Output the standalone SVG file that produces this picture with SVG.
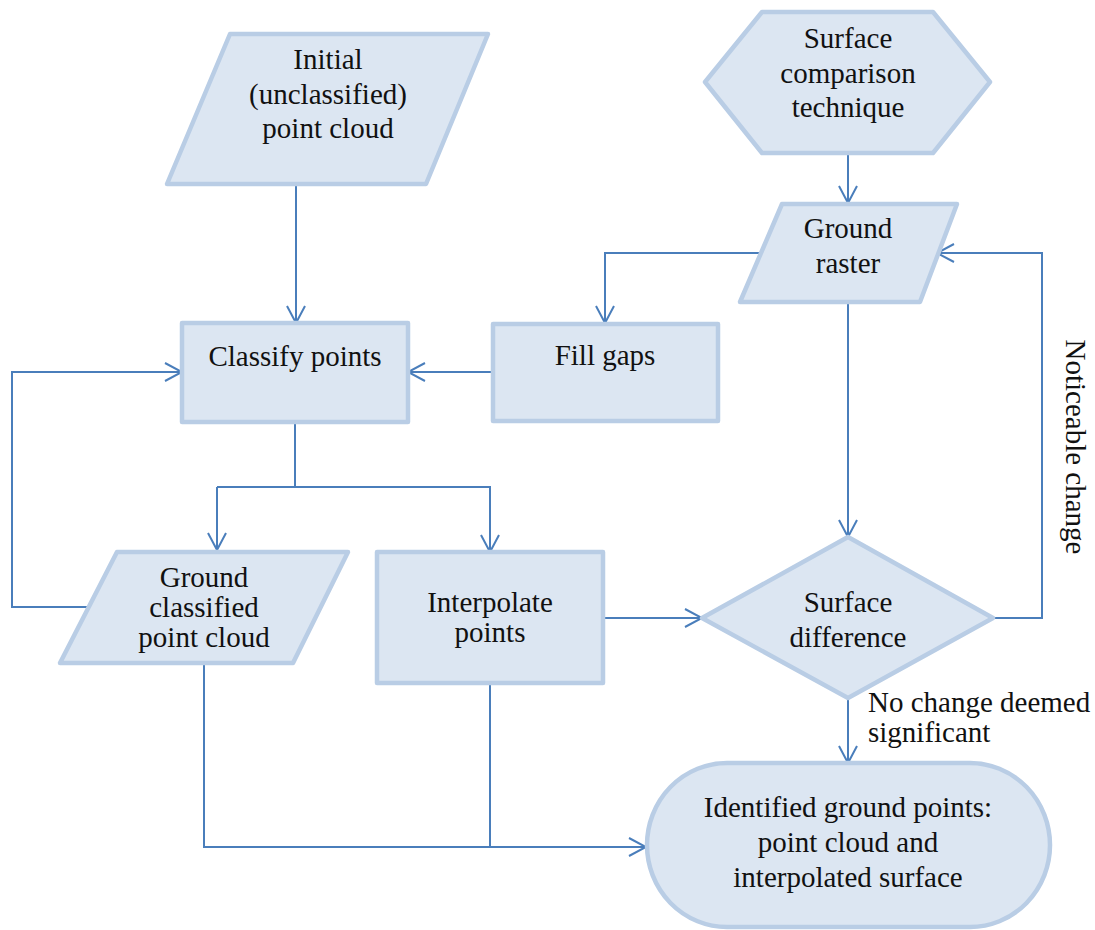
<svg xmlns="http://www.w3.org/2000/svg" width="1095" height="930" viewBox="0 0 1095 930">
  <defs>
    <marker id="arrow" viewBox="0 0 20 20" refX="18" refY="10" markerWidth="20" markerHeight="20" markerUnits="userSpaceOnUse" orient="auto">
      <path d="M1,1 L18,10 L1,19" fill="none" stroke="#4A7EBB" stroke-width="2"/>
    </marker>
    <style>
      .node { fill: #DCE6F2; stroke: #B9CDE5; stroke-width: 4.5; stroke-linejoin: round; }
      .label { font-family: "Liberation Serif", "Times New Roman", serif; font-size: 29px; fill: #111111; text-anchor: middle; }
      .note { font-family: "Liberation Serif", "Times New Roman", serif; font-size: 29px; fill: #111111; }
      .conn { fill: none; stroke: #4A7EBB; stroke-width: 2; }
      .arrow { marker-end: url(#arrow); }
    </style>
  </defs>
  <rect width="1095" height="930" fill="#FFFFFF"/>

  <!-- connectors -->
  <g id="connectors">
    <path class="conn arrow" d="M296,185 L296,323"/>
    <path class="conn arrow" d="M848,153 L848,203"/>
    <path class="conn arrow" d="M760,253 L605,253 L605,323"/>
    <path class="conn arrow" d="M493,372 L408,372"/>
    <path class="conn arrow" d="M88,607 L12,607 L12,372 L182,372"/>
    <path class="conn" d="M295,422 L295,487"/>
    <path class="conn arrow" d="M217,487 L217,550"/>
    <path class="conn arrow" d="M217,487 L490,487 L490,552"/>
    <path class="conn arrow" d="M848,302 L848,537"/>
    <path class="conn arrow" d="M604,618 L702,618"/>
    <path class="conn arrow" d="M995,618 L1042,618 L1042,253 L937,253"/>
    <path class="conn arrow" d="M848,698 L848,763"/>
    <path class="conn" d="M204,663 L204,847 L490,847"/>
    <path class="conn arrow" d="M490,683 L490,847 L646,847"/>
    <text class="note" transform="translate(1066,447) rotate(90)" text-anchor="middle">Noticeable change</text>
    <text class="note" x="868" y="712">No change deemed</text>
    <text class="note" x="868" y="742">significant</text>
  </g>

  <g id="initial-point-cloud">
    <polygon class="node" points="230,34 488,34 426,184 167,184"/>
    <text class="label" x="328" y="69">Initial</text>
    <text class="label" x="328" y="104">(unclassified)</text>
    <text class="label" x="328" y="138">point cloud</text>
  </g>

  <g id="surface-comparison">
    <polygon class="node" points="762,12 933,12 990,82 933,153 762,153 705,82"/>
    <text class="label" x="848" y="48">Surface</text>
    <text class="label" x="848" y="83">comparison</text>
    <text class="label" x="848" y="117">technique</text>
  </g>

  <g id="ground-raster">
    <polygon class="node" points="782,204 957,204 920,302 740,302"/>
    <text class="label" x="848" y="238">Ground</text>
    <text class="label" x="848" y="273">raster</text>
  </g>

  <g id="classify-points">
    <rect class="node" x="182" y="323" width="226" height="99"/>
    <text class="label" x="295" y="366">Classify points</text>
  </g>

  <g id="fill-gaps">
    <rect class="node" x="493" y="324" width="225" height="97"/>
    <text class="label" x="605" y="365">Fill gaps</text>
  </g>

  <g id="ground-classified">
    <polygon class="node" points="117,552 348,552 293,663 60,663"/>
    <text class="label" x="204" y="587">Ground</text>
    <text class="label" x="204" y="617">classified</text>
    <text class="label" x="204" y="647">point cloud</text>
  </g>

  <g id="interpolate-points">
    <rect class="node" x="377" y="552" width="226" height="131"/>
    <text class="label" x="490" y="612">Interpolate</text>
    <text class="label" x="490" y="642">points</text>
  </g>

  <g id="surface-difference">
    <polygon class="node" points="848,537 993,618 848,698 702,618"/>
    <text class="label" x="848" y="612">Surface</text>
    <text class="label" x="848" y="647">difference</text>
  </g>

  <g id="identified-ground-points">
    <rect class="node" x="647" y="763" width="403" height="164" rx="80" ry="82"/>
    <text class="label" x="848" y="817">Identified ground points:</text>
    <text class="label" x="848" y="852">point cloud and</text>
    <text class="label" x="848" y="887">interpolated surface</text>
  </g>
</svg>
